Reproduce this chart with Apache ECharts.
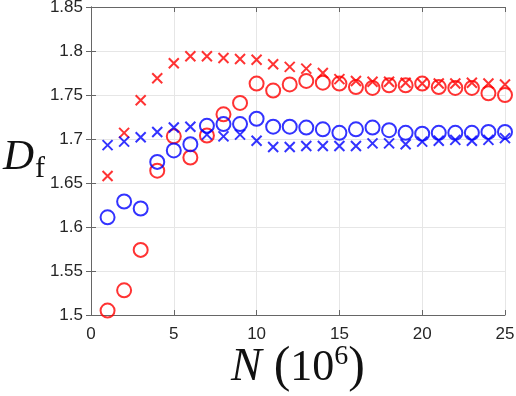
<!DOCTYPE html>
<html>
<head>
<meta charset="utf-8">
<script src="https://cdn.jsdelivr.net/npm/echarts@6/dist/echarts.min.js"></script>
<style>
  html, body { margin: 0; padding: 0; background: #fff; }
  #chart { width: 516px; height: 396px; }
</style>
</head>
<body>
<div id="chart"></div>
<script>
  // N in units of 10^6
  const nValues = [1, 2, 3, 4, 5, 6, 7, 8, 9, 10, 11, 12, 13, 14, 15, 16, 17, 18, 19, 20, 21, 22, 23, 24, 25]
  const redCircles = [1.505, 1.528, 1.574, 1.664, 1.703, 1.679, 1.704, 1.728, 1.741, 1.763, 1.755, 1.762, 1.766,
    1.764, 1.763, 1.759, 1.758, 1.761, 1.761, 1.763, 1.759, 1.758, 1.758, 1.752, 1.750]
  const redCrosses = [1.658, 1.707, 1.744, 1.769, 1.786, 1.794, 1.794, 1.792, 1.791, 1.790, 1.785, 1.782, 1.780,
    1.775, 1.768, 1.766, 1.765, 1.765, 1.764, 1.763, 1.763, 1.763, 1.764, 1.763, 1.762]
  const blueCircles = [1.611, 1.629, 1.621, 1.674, 1.687, 1.694, 1.715, 1.717, 1.717, 1.723, 1.714, 1.714, 1.713,
    1.711, 1.707, 1.711, 1.713, 1.710, 1.707, 1.706, 1.707, 1.707, 1.707, 1.708, 1.708]
  const blueCrosses = [1.693, 1.697, 1.702, 1.708, 1.713, 1.714, 1.705, 1.703, 1.705, 1.698, 1.691, 1.691, 1.692,
    1.692, 1.692, 1.692, 1.695, 1.695, 1.694, 1.697, 1.698, 1.699, 1.698, 1.699, 1.701]

  const crossPath = 'path://M0,0L10,10M10,0L0,10'
  const pairs = (ys) => nValues.map((x, i) => [x, ys[i]])

  function circleSeries(name, ys, color) {
    return {
      name: name,
      type: 'scatter',
      data: pairs(ys),
      symbol: 'circle',
      symbolSize: 14,
      itemStyle: { color: 'transparent', borderColor: color, borderWidth: 2 }
    }
  }
  function crossSeries(name, ys, color) {
    return {
      name: name,
      type: 'scatter',
      data: pairs(ys),
      symbol: crossPath,
      symbolSize: 10,
      itemStyle: { color: 'transparent', borderColor: color, borderWidth: 2 }
    }
  }

  const axisColor = '#666'
  const labelStyle = { color: '#262626', fontSize: 17, fontFamily: 'Liberation Sans' }
  const serif = 'Liberation Serif'

  const myChart = echarts.init(document.getElementById('chart'))
  myChart.setOption({
    animation: false,
    grid: { left: 91, right: 11, top: 7, bottom: 81, outerBoundsMode: 'none' },
    xAxis: [
      {
        type: 'value',
        min: 0,
        max: 25,
        interval: 5,
        axisLine: { show: true, lineStyle: { color: axisColor } },
        axisTick: { show: true, inside: true, length: 5, lineStyle: { color: axisColor } },
        axisLabel: Object.assign({ margin: 11 }, labelStyle),
        splitLine: { show: true, lineStyle: { color: '#e6e6e6' } },
        name: '{n|N}{p|(}{t|10}{s|6}{p|)}',
        nameLocation: 'middle',
        nameGap: 28,
        nameMoveOverlap: false,
        nameTextStyle: {
          rich: {
            n: { fontFamily: serif, fontStyle: 'italic', fontSize: 46, color: '#111', padding: [0, 12, 0, 0] },
            p: { fontFamily: serif, fontSize: 50, color: '#111' },
            t: { fontFamily: serif, fontSize: 44, color: '#111' },
            s: { fontFamily: serif, fontSize: 28, color: '#111', verticalAlign: 'top', padding: [0, 0, 22, 0] }
          }
        }
      },
      {
        type: 'value',
        position: 'top',
        min: 0,
        max: 25,
        interval: 5,
        axisLine: { show: true, lineStyle: { color: axisColor } },
        axisTick: { show: true, inside: true, length: 5, lineStyle: { color: axisColor } },
        axisLabel: { show: false },
        splitLine: { show: false }
      }
    ],
    yAxis: [
      {
        type: 'value',
        min: 1.5,
        max: 1.85,
        interval: 0.05,
        axisLine: { show: true, lineStyle: { color: axisColor } },
        axisTick: { show: true, inside: true, length: 5, lineStyle: { color: axisColor } },
        axisLabel: Object.assign({ margin: 8, formatter: (v) => String(parseFloat(v.toFixed(2))) }, labelStyle),
        splitLine: { show: true, lineStyle: { color: '#e6e6e6' } },
        name: '{d|D}{f|f}',
        nameLocation: 'middle',
        nameRotate: 0,
        nameGap: 46,
        nameMoveOverlap: false,
        nameTextStyle: {
          padding: [0, 0, 6, 0],
          rich: {
            d: { fontFamily: serif, fontStyle: 'italic', fontSize: 43, color: '#111' },
            f: { fontFamily: serif, fontSize: 30, color: '#111', verticalAlign: 'bottom', padding: [22, 0, 0, 1] }
          }
        }
      },
      {
        type: 'value',
        position: 'right',
        min: 1.5,
        max: 1.85,
        interval: 0.05,
        axisLine: { show: true, lineStyle: { color: axisColor } },
        axisTick: { show: true, inside: true, length: 5, lineStyle: { color: axisColor } },
        axisLabel: { show: false },
        splitLine: { show: false }
      }
    ],
    series: [
      circleSeries('red circles', redCircles, '#ff0000'),
      crossSeries('red crosses', redCrosses, '#ff0000'),
      circleSeries('blue circles', blueCircles, '#0000ff'),
      crossSeries('blue crosses', blueCrosses, '#0000ff')
    ]
  })
</script>
</body>
</html>
